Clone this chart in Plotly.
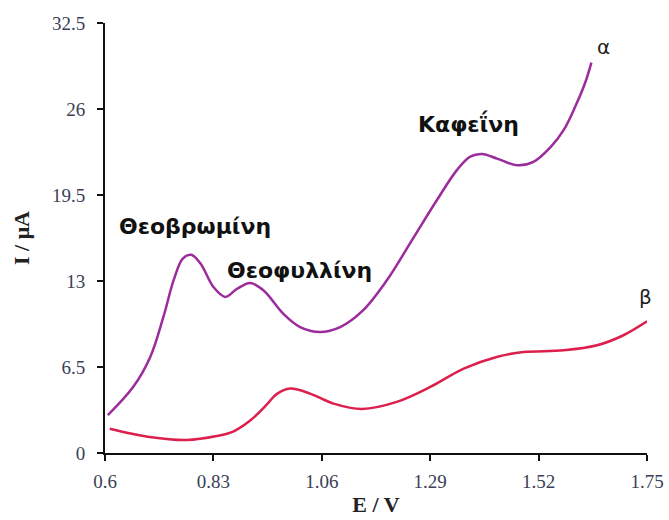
import plotly.graph_objects as go

# Curve α (with analytes)
alpha_E = [0.606, 0.660, 0.696, 0.724, 0.746, 0.765, 0.783, 0.803, 0.830, 0.855, 0.880, 0.908,
           0.936, 0.979, 1.014, 1.056, 1.099, 1.148, 1.198, 1.255, 1.304, 1.347, 1.375, 1.400,
           1.432, 1.474, 1.509, 1.545, 1.573, 1.598, 1.619, 1.632]
alpha_I = [2.86, 5.0, 7.26, 10.3, 13.1, 14.7, 14.98, 14.3, 12.55, 11.8, 12.4, 12.85,
           12.3, 10.5, 9.52, 9.15, 9.52, 10.8, 13.05, 16.3, 19.1, 21.4, 22.4, 22.6,
           22.25, 21.75, 22.0, 23.1, 24.4, 26.2, 28.0, 29.5]

# Curve β (blank)
beta_E = [0.610, 0.695, 0.773, 0.837, 0.872, 0.908, 0.943, 0.964, 0.993, 1.035, 1.085, 1.145,
          1.219, 1.290, 1.361, 1.431, 1.488, 1.573, 1.644, 1.700, 1.750]
beta_I = [1.84, 1.21, 0.98, 1.28, 1.62, 2.45, 3.65, 4.45, 4.87, 4.49, 3.73, 3.33,
          3.86, 4.99, 6.38, 7.26, 7.63, 7.76, 8.14, 8.9, 9.95]

x_ticks = [0.6, 0.83, 1.06, 1.29, 1.52, 1.75]
x_tick_labels = ["0.6", "0.83", "1.06", "1.29", "1.52", "1.75"]
y_ticks = [0, 6.5, 13, 19.5, 26, 32.5]
y_tick_labels = ["0", "6.5", "13", "19.5", "26", "32.5"]

fig = go.Figure()
fig.add_trace(go.Scatter(x=alpha_E, y=alpha_I, mode="lines",
                         line=dict(color="#9C2B9C", width=2.5, shape="spline", smoothing=1.0),
                         showlegend=False, cliponaxis=False))
fig.add_trace(go.Scatter(x=beta_E, y=beta_I, mode="lines",
                         line=dict(color="#DC1F4C", width=2.5, shape="spline", smoothing=1.0),
                         showlegend=False, cliponaxis=False))

bold_font = dict(family="DejaVu Sans", size=22, color="#111111")
fig.add_annotation(x=0.791, y=17.1, text="<b>Θεοβρωμίνη</b>", showarrow=False, font=bold_font)
fig.add_annotation(x=1.012, y=13.8, text="<b>Θεοφυλλίνη</b>", showarrow=False, font=bold_font)
fig.add_annotation(x=1.371, y=24.9, text="<b>Καφεΐνη</b>", showarrow=False, font=bold_font)
fig.add_annotation(x=1.657, y=30.7, text="α", showarrow=False,
                   font=dict(family="DejaVu Sans", size=20, color="#222222"))
fig.add_annotation(xref="paper", yref="y", x=1.012, y=11.8, text="β", showarrow=False,
                   font=dict(family="DejaVu Sans", size=20, color="#222222"))

tick_font = dict(family="Liberation Serif", size=19, color="#3a3f55")
title_font = dict(family="Liberation Serif", size=22, color="#222222")

fig.update_layout(
    width=669, height=520,
    margin=dict(l=105, r=22, t=23, b=67, autoexpand=False),
    paper_bgcolor="white", plot_bgcolor="white",
    xaxis=dict(range=[0.6, 1.75], tickvals=x_ticks, ticktext=x_tick_labels,
               showgrid=False, zeroline=False, showline=True, linecolor="#111111", linewidth=2,
               ticks="outside", ticklen=6, tickwidth=2, tickcolor="#111111",
               tickfont=tick_font, ticklabelstandoff=4, automargin=False,
               title=dict(text="<b>E / V</b>", font=title_font, standoff=6)),
    yaxis=dict(range=[0, 32.5], tickvals=y_ticks, ticktext=y_tick_labels,
               showgrid=False, zeroline=False, showline=True, linecolor="#111111", linewidth=2,
               ticks="outside", ticklen=6, tickwidth=2, tickcolor="#111111",
               tickfont=tick_font, ticklabelstandoff=8, automargin=False,
               title=dict(text="<b>I / μA</b>", font=title_font, standoff=16)),
)

fig.write_html("out.html")
